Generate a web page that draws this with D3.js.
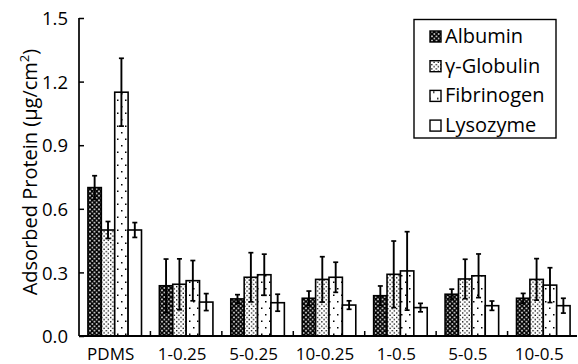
<!DOCTYPE html>
<html>
<head>
<meta charset="utf-8">
<script src="https://cdn.jsdelivr.net/npm/d3@7"></script>
<style>
  html, body { margin: 0; padding: 0; background: #fff; }
  svg { display: block; font-family: "Open Sans", sans-serif; }
  svg text { font-weight: 500; }
</style>
</head>
<body>
<svg id="chart" width="578" height="364"></svg>
<script>
// Surface groups along the x axis
const categories = ["PDMS", "1-0.25", "5-0.25", "10-0.25", "1-0.5", "5-0.5", "10-0.5"];
// Proteins (one bar per protein in each group)
const proteins = ["Albumin", "γ-Globulin", "Fibrinogen", "Lysozyme"];

// Mean adsorbed amount (µg/cm²), per protein, in category order
const albumin    = [0.70, 0.237, 0.175, 0.178, 0.19, 0.197, 0.178];
const globulin   = [0.50, 0.244, 0.277, 0.267, 0.291, 0.269, 0.267];
const fibrinogen = [1.15, 0.261, 0.289, 0.277, 0.307, 0.284, 0.24];
const lysozyme   = [0.50, 0.16, 0.157, 0.146, 0.134, 0.143, 0.143];

// Standard deviations
const albuminErr    = [0.056, 0.126, 0.02, 0.034, 0.046, 0.024, 0.023];
const globulinErr   = [0.04, 0.12, 0.116, 0.107, 0.157, 0.093, 0.098];
const fibrinogenErr = [0.16, 0.095, 0.097, 0.071, 0.185, 0.103, 0.082];
const lysozymeErr   = [0.035, 0.04, 0.04, 0.02, 0.02, 0.022, 0.035];

const yTicks = [0.0, 0.3, 0.6, 0.9, 1.2, 1.5];

const means = [albumin, globulin, fibrinogen, lysozyme];
const errs = [albuminErr, globulinErr, fibrinogenErr, lysozymeErr];
const rows = [];
categories.forEach((c, i) => {
  proteins.forEach((p, j) => {
    rows.push({ cat: c, protein: p, value: means[j][i], err: errs[j][i] });
  });
});

const svg = d3.select("#chart");

// Fill patterns: cross-hatch, dense dots, sparse dots, plain
const defs = svg.append("defs");
const hatch = defs.append("pattern").attr("id", "p0")
  .attr("patternUnits", "userSpaceOnUse").attr("width", 4.5).attr("height", 4.5);
hatch.append("rect").attr("width", 4.5).attr("height", 4.5).attr("fill", "#fff");
hatch.append("path").attr("d", "M-1,-1L5.5,5.5M5.5,-1L-1,5.5")
  .attr("stroke", "#000").attr("stroke-width", 1.7);

const dense = defs.append("pattern").attr("id", "p1")
  .attr("patternUnits", "userSpaceOnUse").attr("width", 4.4).attr("height", 4.4);
dense.append("rect").attr("width", 4.4).attr("height", 4.4).attr("fill", "#fff");
dense.append("rect").attr("x", 0).attr("y", 0).attr("width", 1.3).attr("height", 1.3).attr("fill", "#000");
dense.append("rect").attr("x", 2.2).attr("y", 2.2).attr("width", 1.3).attr("height", 1.3).attr("fill", "#000");

const sparse = defs.append("pattern").attr("id", "p2")
  .attr("patternUnits", "userSpaceOnUse").attr("width", 8).attr("height", 13);
sparse.append("rect").attr("width", 8).attr("height", 13).attr("fill", "#fff");
sparse.append("rect").attr("x", 1).attr("y", 2).attr("width", 1.5).attr("height", 1.5).attr("fill", "#000");
sparse.append("rect").attr("x", 5).attr("y", 8.5).attr("width", 1.5).attr("height", 1.5).attr("fill", "#000");

const fills = ["url(#p0)", "url(#p1)", "url(#p2)", "#fff"];

const x0 = d3.scaleBand().domain(categories).range([79, 579])
  .paddingInner(0.25).paddingOuter(0.125);
const x1 = d3.scaleBand().domain(proteins).range([0, x0.bandwidth()]);
const y = d3.scaleLinear().domain([0, 1.5]).range([336, 18]);

// Bars
const g = svg.append("g");
g.selectAll("rect.bar").data(rows).join("rect")
  .attr("class", "bar")
  .attr("x", d => x0(d.cat) + x1(d.protein))
  .attr("y", d => y(d.value))
  .attr("width", x1.bandwidth())
  .attr("height", d => y(0) - y(d.value))
  .attr("fill", d => fills[proteins.indexOf(d.protein)])
  .attr("stroke", "#000").attr("stroke-width", 1.6);

// Error bars
const eb = g.selectAll("g.err").data(rows).join("g").attr("class", "err")
  .attr("transform", d => `translate(${x0(d.cat) + x1(d.protein) + x1.bandwidth() / 2},0)`);
eb.append("line")
  .attr("y1", d => y(d.value - d.err)).attr("y2", d => y(d.value + d.err))
  .attr("stroke", "#000").attr("stroke-width", 1.9);
eb.append("line").attr("x1", -2.5).attr("x2", 2.5)
  .attr("y1", d => y(d.value + d.err)).attr("y2", d => y(d.value + d.err))
  .attr("stroke", "#000").attr("stroke-width", 1.7);
eb.append("line").attr("x1", -2.5).attr("x2", 2.5)
  .attr("y1", d => y(d.value - d.err)).attr("y2", d => y(d.value - d.err))
  .attr("stroke", "#000").attr("stroke-width", 1.7);

// Y axis with inward ticks
const yAxis = svg.append("g").attr("transform", "translate(79,0)")
  .call(d3.axisRight(y).tickValues(yTicks).tickSize(5).tickFormat(d3.format(".1f")));
yAxis.select(".domain").attr("d", `M0,${y(1.5)}V${y(0)}`).attr("stroke-width", 1.7);
yAxis.selectAll(".tick line").attr("stroke-width", 1.5);
yAxis.selectAll(".tick text")
  .attr("x", -11).attr("text-anchor", "end").attr("dy", "0.36em")
  .attr("font-size", 18.5).attr("font-family", "'Open Sans', sans-serif").attr("fill", "#000");

// X axis line with short separators between groups
svg.append("line").attr("x1", 79).attr("x2", 577).attr("y1", y(0)).attr("y2", y(0))
  .attr("stroke", "#000").attr("stroke-width", 1.9);
const seps = categories.slice(1).map(c => x0(c) - x0.step() * x0.paddingInner() / 2);
svg.selectAll("line.sep").data(seps).join("line").attr("class", "sep")
  .attr("x1", d => d).attr("x2", d => d).attr("y1", y(0)).attr("y2", y(0) - 5)
  .attr("stroke", "#000").attr("stroke-width", 1.5);

svg.selectAll("text.cat").data(categories).join("text").attr("class", "cat")
  .attr("x", d => x0(d) + x0.bandwidth() / 2 - 4)
  .attr("y", 360).attr("text-anchor", "middle")
  .attr("font-size", 17).attr("fill", "#000").text(d => d);

// Y axis title, centred on the plot height
const title = svg.append("text").attr("font-size", 20).attr("fill", "#000");
title.append("tspan").text("Adsorbed Protein (μg/cm");
title.append("tspan").attr("dy", -8).attr("font-size", 13).text("2");
title.append("tspan").attr("dy", 8).text(")");
const tb = title.node().getBBox();
title.attr("transform", `translate(37,172) rotate(-90) translate(${-(tb.x + tb.width / 2)},0)`);

// Legend
const lg = svg.append("g");
lg.append("rect").attr("x", 414).attr("y", 19.5).attr("width", 142).attr("height", 118.5)
  .attr("fill", "#fff").attr("stroke", "#000").attr("stroke-width", 1.4);
const item = lg.selectAll("g.item").data(proteins).join("g").attr("class", "item")
  .attr("transform", (d, i) => `translate(0,${43 + i * 29.7})`);
item.append("rect").attr("x", 430).attr("y", -12).attr("width", 11).attr("height", 11)
  .attr("fill", (d, i) => fills[i]).attr("stroke", "#000").attr("stroke-width", 1.4);
item.append("text").attr("x", 445).attr("y", 0).attr("font-size", 20).attr("fill", "#000")
  .text(d => d);
</script>
</body>
</html>
